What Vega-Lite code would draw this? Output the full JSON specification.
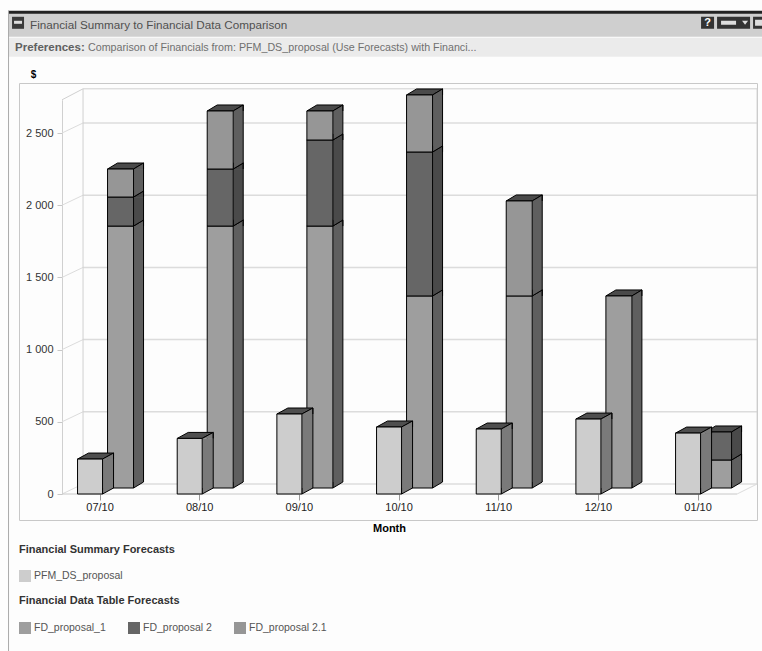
{
"$schema":"https://vega.github.io/schema/vega-lite/v6.json",
"width":738,"height":437,
"autosize":{"type":"none"},
"padding":{"left":19,"top":83,"right":5,"bottom":131},
"background":"#fdfdfd",
"view":{"stroke":"#c8c8c8","fill":null},
"config":{"font":"Liberation Sans"},
"title":{"text":"Financial Summary to Financial Data Comparison","anchor":"start","frame":"group","dx":11,"offset":-21,"fontSize":11.7,"fontWeight":"normal","color":"#505050","font":"Liberation Sans"},
"resolve":{"scale":{"color":"independent"}},
"layer":[
{"data":{"values":[{"part":"window"}]},"layer":[
 {"mark":{"type":"rule","stroke":"#cfcfcf","strokeWidth":24,"xOffset":-92,"x2Offset":64,"yOffset":-75},"encoding":{"x":{"datum":"07/10","type":"nominal"},"x2":{"datum":"01/10"},"y":{"datum":2730,"type":"quantitative"}}},
 {"mark":{"type":"rule","stroke":"#222222","strokeWidth":3,"xOffset":-92,"x2Offset":64,"yOffset":-87.5},"encoding":{"x":{"datum":"07/10","type":"nominal"},"x2":{"datum":"01/10"},"y":{"datum":2730,"type":"quantitative"}}},
 {"mark":{"type":"rule","stroke":"#ebebeb","strokeWidth":19,"xOffset":-92,"x2Offset":64,"yOffset":-52.5},"encoding":{"x":{"datum":"07/10","type":"nominal"},"x2":{"datum":"01/10"},"y":{"datum":2730,"type":"quantitative"}}},
 {"mark":{"type":"rule","stroke":"#aaaaaa","strokeWidth":1,"xOffset":-91.5,"yOffset":-89,"y2Offset":157},"encoding":{"x":{"datum":"07/10","type":"nominal"},"y":{"datum":2730,"type":"quantitative"},"y2":{"datum":0}}},
 {"mark":{"type":"point","filled":true,"opacity":1,"fill":"#3a3a3a","size":4,"shape":"M-88 -6H-76V6H-88Z","yOffset":-77},"encoding":{"x":{"datum":"07/10","type":"nominal"},"y":{"datum":2730,"type":"quantitative"}}},
 {"mark":{"type":"point","filled":true,"opacity":1,"fill":"#dddddd","size":4,"shape":"M-86 -2H-78V1H-86Z","yOffset":-77},"encoding":{"x":{"datum":"07/10","type":"nominal"},"y":{"datum":2730,"type":"quantitative"}}},
 {"mark":{"type":"point","filled":true,"opacity":1,"fill":"#333333","size":4,"shape":"M3 -6H16V6H3ZM19 -6H52V6H19ZM55 -6H64V6H55Z","yOffset":-77},"encoding":{"x":{"datum":"01/10","type":"nominal"},"y":{"datum":2730,"type":"quantitative"}}},
 {"mark":{"type":"point","filled":true,"opacity":1,"fill":"#dddddd","size":4,"shape":"M23 -2H38V2H23ZM44 -2H50L47 2ZM57 -3H64V3H57Z","yOffset":-77},"encoding":{"x":{"datum":"01/10","type":"nominal"},"y":{"datum":2730,"type":"quantitative"}}},
 {"mark":{"type":"text","text":"?","color":"#ffffff","fontWeight":"bold","fontSize":11,"font":"Liberation Sans","dx":9.5,"dy":-77,"align":"center","baseline":"middle"},"encoding":{"x":{"datum":"01/10","type":"nominal"},"y":{"datum":2730,"type":"quantitative"}}},
 {"mark":{"type":"text","text":"Preferences:","color":"#606060","fontWeight":"bold","fontSize":11.5,"font":"Liberation Sans","dx":-85,"dy":-52,"align":"left"},"encoding":{"x":{"datum":"07/10","type":"nominal"},"y":{"datum":2730,"type":"quantitative"}}},
 {"mark":{"type":"text","text":"Comparison of Financials from: PFM_DS_proposal (Use Forecasts) with Financi...","color":"#707070","fontSize":10.7,"font":"Liberation Sans","dx":-12,"dy":-52,"align":"left"},"encoding":{"x":{"datum":"07/10","type":"nominal"},"y":{"datum":2730,"type":"quantitative"}}}
]},
{"data":{"values":[{"tick":0},{"tick":500},{"tick":1000},{"tick":1500},{"tick":2000},{"tick":2500}]},"layer":[
 {"mark":{"type":"rule","stroke":"#dcdcdc","strokeWidth":1.5,"xOffset":-17,"x2Offset":59,"yOffset":-10},"encoding":{"x":{"datum":"07/10","type":"nominal"},"x2":{"datum":"01/10"},"y":{"field":"tick","type":"quantitative"}}},
 {"mark":{"type":"rule","stroke":"#dcdcdc","strokeWidth":1,"xOffset":-38,"x2Offset":-17,"y2Offset":-10},"encoding":{"x":{"datum":"07/10","type":"nominal"},"x2":{"datum":"07/10"},"y":{"field":"tick","type":"quantitative"},"y2":{"field":"tick"}}}
]},
{"data":{"values":[{"part":"walls"}]},"layer":[
 {"mark":{"type":"rule","stroke":"#d0d0d0","strokeWidth":1,"xOffset":-17,"x2Offset":59,"yOffset":-11},"encoding":{"x":{"datum":"07/10","type":"nominal"},"x2":{"datum":"01/10"},"y":{"datum":2730,"type":"quantitative"}}},
 {"mark":{"type":"rule","stroke":"#d0d0d0","strokeWidth":1,"xOffset":-38,"x2Offset":-17,"y2Offset":-11},"encoding":{"x":{"datum":"07/10","type":"nominal"},"x2":{"datum":"07/10"},"y":{"datum":2730,"type":"quantitative"},"y2":{"datum":2730}}},
 {"mark":{"type":"rule","stroke":"#d0d0d0","strokeWidth":1,"xOffset":-17,"yOffset":-11,"y2Offset":-10},"encoding":{"x":{"datum":"07/10","type":"nominal"},"y":{"datum":2730,"type":"quantitative"},"y2":{"datum":0}}},
 {"mark":{"type":"rule","stroke":"#d0d0d0","strokeWidth":1,"xOffset":59,"yOffset":-11,"y2Offset":-10},"encoding":{"x":{"datum":"01/10","type":"nominal"},"y":{"datum":2730,"type":"quantitative"},"y2":{"datum":0}}},
 {"mark":{"type":"rule","stroke":"#c8c8c8","strokeWidth":1,"xOffset":-38,"x2Offset":39},"encoding":{"x":{"datum":"07/10","type":"nominal"},"x2":{"datum":"01/10"},"y":{"datum":0,"type":"quantitative"}}},
 {"mark":{"type":"rule","stroke":"#dcdcdc","strokeWidth":1,"xOffset":39,"x2Offset":59,"y2Offset":-10},"encoding":{"x":{"datum":"01/10","type":"nominal"},"x2":{"datum":"01/10"},"y":{"datum":0,"type":"quantitative"},"y2":{"datum":0}}}
]},
{"data":{"values":[
 {"month":"07/10","series":"FD_proposal_1","value":1814},{"month":"07/10","series":"FD_proposal 2","value":201},{"month":"07/10","series":"FD_proposal 2.1","value":194},
 {"month":"08/10","series":"FD_proposal_1","value":1814},{"month":"08/10","series":"FD_proposal 2","value":395},{"month":"08/10","series":"FD_proposal 2.1","value":402},
 {"month":"09/10","series":"FD_proposal_1","value":1814},{"month":"09/10","series":"FD_proposal 2","value":596},{"month":"09/10","series":"FD_proposal 2.1","value":201},
 {"month":"10/10","series":"FD_proposal_1","value":1330},{"month":"10/10","series":"FD_proposal 2","value":997},{"month":"10/10","series":"FD_proposal 2.1","value":395},
 {"month":"11/10","series":"FD_proposal_1","value":1330},{"month":"11/10","series":"FD_proposal 2.1","value":658},
 {"month":"12/10","series":"FD_proposal_1","value":1330},
 {"month":"01/10","series":"FD_proposal_1","value":194},{"month":"01/10","series":"FD_proposal 2","value":194}
 ]},
 "transform":[{"stack":"value","groupby":["month"],"as":["s0","s1"]}],
 "layer":[
 {"mark":{"type":"bar","opacity":0},
  "encoding":{
   "x":{"field":"month","type":"nominal","scale":{"type":"band","domain":["07/10","08/10","09/10","10/10","11/10","12/10","01/10"],"range":[31.2,728.9],"paddingInner":0,"paddingOuter":0},
     "axis":{"title":"Month","titleFont":"Liberation Sans","titleFontSize":11,"titleFontWeight":"bold","titleColor":"#000000","titleX":370,"titleY":34,"titleBaseline":"middle","offset":-26,"domain":false,"grid":false,"tickColor":"#999999","tickSize":6,"labelAngle":0,"labelAlign":"center","labelFont":"Liberation Sans","labelFontSize":11,"labelColor":"#222222","labelPadding":7}},
   "y":{"field":"s1","type":"quantitative","scale":{"domain":[0,2730],"range":[411,16.8],"nice":false,"zero":false},
     "axis":{"values":[0,500,1000,1500,2000,2500],"labelExpr":"replace(format(datum.value,','),',',' ')","title":"$","titleFont":"Liberation Sans","titleFontSize":10,"titleFontWeight":"bold","titleColor":"#000000","titleAngle":0,"titleX":-29,"titleY":-9,"titleAlign":"center","titleBaseline":"middle","offset":-43,"grid":false,"domainColor":"#d0d0d0","tickColor":"#c8c8c8","tickSize":5,"labelFont":"Liberation Sans","labelFontSize":11,"labelColor":"#333333","labelPadding":4}},
   "y2":{"field":"s0"}}},
 {"mark":{"type":"point","filled":true,"opacity":1,"size":4,"shape":"M-26 0L0 0L10 -6L-16 -6Z","fill":"#4a4a4a","stroke":"#000000","strokeWidth":1,"xOffset":33.5,"yOffset":-6},
  "encoding":{"x":{"field":"month","type":"nominal"},"y":{"field":"s1","type":"quantitative"}}},
 {"mark":{"type":"bar","width":10,"xOffset":38.5,"yOffset":-6,"y2Offset":-12},
  "encoding":{"x":{"field":"month","type":"nominal"},"y":{"field":"s1","type":"quantitative"},"y2":{"field":"s0"},
   "fill":{"condition":{"test":"datum.series==='FD_proposal 2'","value":"#4a4a4a"},"value":"#5f5f5f"}}},
 {"mark":{"type":"point","filled":true,"opacity":1,"size":4,"shape":"M0 0L10 -6L10 0","stroke":"#000000","strokeWidth":1,"xOffset":33.5,"yOffset":-6},
  "encoding":{"x":{"field":"month","type":"nominal"},"y":{"field":"s1","type":"quantitative"},
   "fill":{"condition":{"test":"datum.series==='FD_proposal 2'","value":"#4a4a4a"},"value":"#5f5f5f"}}},
 {"mark":{"type":"point","filled":true,"opacity":1,"size":4,"shape":"M0 -6L0 0L10 -6","stroke":"#000000","strokeWidth":1,"xOffset":33.5,"yOffset":-6},
  "encoding":{"x":{"field":"month","type":"nominal"},"y":{"field":"s0","type":"quantitative"},
   "fill":{"condition":{"test":"datum.series==='FD_proposal 2'","value":"#4a4a4a"},"value":"#5f5f5f"}}},
 {"mark":{"type":"rule","stroke":"#000000","strokeWidth":1,"xOffset":43.5,"yOffset":-12,"y2Offset":-12},
  "encoding":{"x":{"field":"month","type":"nominal"},"y":{"field":"s1","type":"quantitative"},"y2":{"field":"s0"}}},
 {"mark":{"type":"bar","width":26,"xOffset":20.5,"yOffset":-6,"y2Offset":-6,"stroke":"#000000","strokeWidth":1},
  "encoding":{"x":{"field":"month","type":"nominal"},"y":{"field":"s1","type":"quantitative"},"y2":{"field":"s0"},
   "color":{"field":"series","type":"nominal","scale":{"domain":["FD_proposal_1","FD_proposal 2","FD_proposal 2.1"],"range":["#9e9e9e","#666666","#969696"]},
    "legend":{"title":"Financial Data Table Forecasts","orient":"none","legendX":0,"legendY":512,"direction":"horizontal","columns":3,"symbolType":"square","symbolSize":144,"symbolStrokeWidth":0,"titleFont":"Liberation Sans","titleFontSize":11,"titleFontWeight":"bold","titleColor":"#333333","titlePadding":16,"labelFont":"Liberation Sans","labelFontSize":10.5,"labelColor":"#555555","labelOffset":3,"columnPadding":22}}}}
 ]},
{"data":{"values":[
 {"month":"07/10","series":"PFM_DS_proposal","value":242},
 {"month":"08/10","series":"PFM_DS_proposal","value":385},
 {"month":"09/10","series":"PFM_DS_proposal","value":554},
 {"month":"10/10","series":"PFM_DS_proposal","value":464},
 {"month":"11/10","series":"PFM_DS_proposal","value":450},
 {"month":"12/10","series":"PFM_DS_proposal","value":519},
 {"month":"01/10","series":"PFM_DS_proposal","value":422}
 ]},
 "layer":[
 {"mark":{"type":"point","filled":true,"opacity":1,"size":4,"shape":"M-25 0L0 0L11 -6L-14 -6Z","fill":"#4f4f4f","stroke":"#000000","strokeWidth":1,"xOffset":2.5},
  "encoding":{"x":{"field":"month","type":"nominal"},"y":{"field":"value","type":"quantitative"}}},
 {"mark":{"type":"bar","width":11,"xOffset":8,"y2Offset":-6,"fill":"#7a7a7a"},
  "encoding":{"x":{"field":"month","type":"nominal"},"y":{"field":"value","type":"quantitative"},"y2":{"datum":0}}},
 {"mark":{"type":"point","filled":true,"opacity":1,"size":4,"shape":"M0 0L11 -6L11 0","fill":"#7a7a7a","stroke":"#000000","strokeWidth":1,"xOffset":2.5},
  "encoding":{"x":{"field":"month","type":"nominal"},"y":{"field":"value","type":"quantitative"}}},
 {"mark":{"type":"point","filled":true,"opacity":1,"size":4,"shape":"M0 -6L0 0L11 -6","fill":"#7a7a7a","stroke":"#000000","strokeWidth":1,"xOffset":2.5},
  "encoding":{"x":{"field":"month","type":"nominal"},"y":{"datum":0,"type":"quantitative"}}},
 {"mark":{"type":"rule","stroke":"#000000","strokeWidth":1,"xOffset":13.5,"yOffset":-6,"y2Offset":-6},
  "encoding":{"x":{"field":"month","type":"nominal"},"y":{"field":"value","type":"quantitative"},"y2":{"datum":0}}},
 {"mark":{"type":"bar","width":25,"xOffset":-10,"stroke":"#000000","strokeWidth":1},
  "encoding":{"x":{"field":"month","type":"nominal"},"y":{"field":"value","type":"quantitative"},"y2":{"datum":0},
   "color":{"field":"series","type":"nominal","scale":{"domain":["PFM_DS_proposal"],"range":["#cdcdcd"]},
    "legend":{"title":"Financial Summary Forecasts","orient":"none","legendX":0,"legendY":461,"symbolType":"square","symbolSize":144,"symbolStrokeWidth":0,"titleFont":"Liberation Sans","titleFontSize":11,"titleFontWeight":"bold","titleColor":"#333333","titlePadding":15,"labelFont":"Liberation Sans","labelFontSize":10.5,"labelColor":"#555555","labelOffset":3,"encode":{"symbols":{"update":{"fill":{"value":"#dcdcdc"}}}}}}}}
 ]}
]}
